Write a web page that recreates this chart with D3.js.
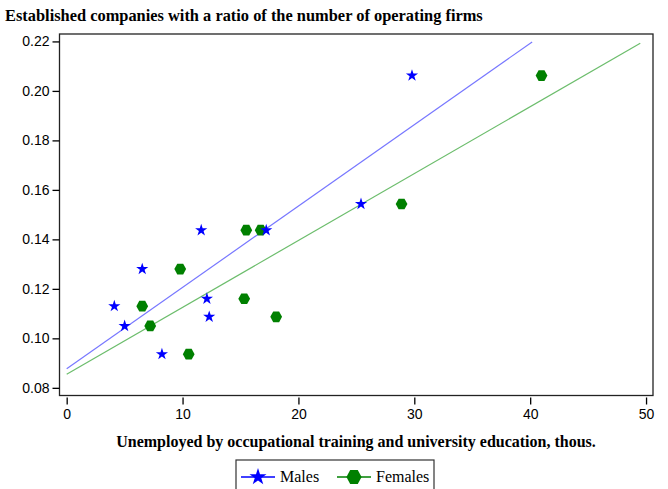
<!DOCTYPE html>
<html lang="en">
<head>
<meta charset="utf-8">
<title>Established companies</title>
<script src="https://d3js.org/d3.v7.min.js"></script>
<style>
  body { margin: 0; background: #fff; }
  svg { display: block; }
  .tick text { font-family: "Liberation Sans", Arial, sans-serif; font-size: 14px; fill: #000; }
</style>
</head>
<body>
<svg width="668" height="489"></svg>
<script>
// data
const maleX   = [4.11, 5.0, 6.52, 8.22, 11.61, 12.1, 12.3, 17.22, 25.4, 29.8];
const maleY   = [0.113, 0.105, 0.128, 0.0936, 0.1437, 0.116, 0.1087, 0.1437, 0.1543, 0.2062];
const femaleX = [6.52, 7.21, 9.8, 10.53, 15.5, 15.32, 18.08, 16.74, 28.9, 40.98];
const femaleY = [0.113, 0.105, 0.128, 0.0936, 0.1437, 0.116, 0.1087, 0.1437, 0.1543, 0.2062];
// fitted lines (end points)
const maleFitX = [0, 40.17];
const maleFitY = [0.0877, 0.2198];
const femaleFitX = [0, 49.5];
const femaleFitY = [0.0855, 0.2193];
const xTicks = [0, 10, 20, 30, 40, 50];
const yTicks = [0.08, 0.10, 0.12, 0.14, 0.16, 0.18, 0.20, 0.22];

const svg = d3.select('svg');
const pLeft = 59.5, pRight = 653, pTop = 34, pBottom = 395.5;

var x = d3.scaleLinear().domain([-0.62, 50.6]).range([pLeft, pRight]);
var y = d3.scaleLinear().domain([0.0769, 0.2230]).range([pBottom, pTop]);

// title
svg.append('text')
  .attr('x', 5).attr('y', 21)
  .style('font-family', '"Liberation Serif", "Times New Roman", serif')
  .style('font-weight', 'bold').style('font-size', '16.4px')
  .text('Established companies with a ratio of the number of operating firms');

// frame
svg.append('rect')
  .attr('x', pLeft).attr('y', pTop)
  .attr('width', pRight - pLeft).attr('height', pBottom - pTop)
  .attr('fill', 'none').attr('stroke', '#222').attr('stroke-width', 1.3);

// y axis
svg.append('g')
  .attr('transform', 'translate(' + pLeft + ',0)')
  .call(d3.axisLeft(y).tickValues(yTicks).tickFormat(d3.format('.2f')).tickSize(7).tickPadding(3))
  .call(g => g.select('.domain').remove())
  .call(g => g.selectAll('.tick line').attr('stroke', '#000').attr('stroke-width', 1.3));

// x axis
svg.append('g')
  .attr('transform', 'translate(0,' + (pBottom + 2) + ')')
  .call(d3.axisBottom(x).tickValues(xTicks).tickFormat(d3.format('d')).tickSize(7).tickPadding(5))
  .call(g => g.select('.domain').remove())
  .call(g => g.selectAll('.tick line').attr('stroke', '#000').attr('stroke-width', 1.3));

// x label
svg.append('text')
  .attr('x', 356).attr('y', 447)
  .attr('text-anchor', 'middle')
  .style('font-family', '"Liberation Serif", "Times New Roman", serif')
  .style('font-weight', 'bold').style('font-size', '16px')
  .text('Unemployed by occupational training and university education, thous.');

// fitted lines
var line = d3.line().x(d => x(d[0])).y(d => y(d[1]));
svg.append('path')
  .attr('d', line(d3.zip(maleFitX, maleFitY)))
  .attr('fill', 'none').attr('stroke', '#7777ff').attr('stroke-width', 1.2);
svg.append('path')
  .attr('d', line(d3.zip(femaleFitX, femaleFitY)))
  .attr('fill', 'none').attr('stroke', '#6cbd6c').attr('stroke-width', 1.2);

// hexagon symbol (flat top and bottom)
const hexagon = {
  draw: function(context, size) {
    var r = Math.sqrt(size / 2.598);
    for (var i = 0; i < 6; i++) {
      var a = Math.PI / 3 * i;
      var px = r * Math.cos(a), py = r * Math.sin(a) * 1.05;
      if (i === 0) context.moveTo(px, py); else context.lineTo(px, py);
    }
    context.closePath();
  }
};
var star = d3.symbol().type(d3.symbolStar).size(46);
var hex = d3.symbol().type(hexagon).size(90);

svg.append('g').selectAll('path')
  .data(d3.zip(femaleX, femaleY))
  .enter().append('path')
  .attr('transform', d => 'translate(' + x(d[0]) + ',' + y(d[1]) + ')')
  .attr('d', hex)
  .attr('fill', '#008000');

svg.append('g').selectAll('path')
  .data(d3.zip(maleX, maleY))
  .enter().append('path')
  .attr('transform', d => 'translate(' + x(d[0]) + ',' + y(d[1]) + ')')
  .attr('d', star)
  .attr('fill', '#0000ff');

// legend
var lg = svg.append('g');
lg.append('rect')
  .attr('x', 236).attr('y', 460).attr('width', 198).attr('height', 40)
  .attr('fill', 'none').attr('stroke', '#333').attr('stroke-width', 1.2);
var legendItems = [
  {name: 'Males', color: '#0000ff', sym: d3.symbol().type(d3.symbolStar).size(90), x0: 241},
  {name: 'Females', color: '#008000', sym: d3.symbol().type(hexagon).size(150), x0: 337}
];
legendItems.forEach(function(d) {
  lg.append('line')
    .attr('x1', d.x0).attr('x2', d.x0 + 34).attr('y1', 477).attr('y2', 477)
    .attr('stroke', d.color).attr('stroke-width', 1.3);
  lg.append('path')
    .attr('transform', 'translate(' + (d.x0 + 17) + ',477)')
    .attr('d', d.sym).attr('fill', d.color);
  lg.append('text')
    .attr('x', d.x0 + 39).attr('y', 482)
    .style('font-family', '"Liberation Serif", "Times New Roman", serif')
    .style('font-size', '16px')
    .text(d.name);
});
</script>
</body>
</html>
